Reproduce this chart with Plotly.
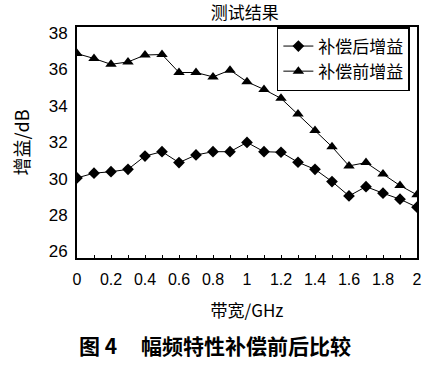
import plotly.graph_objects as go

freq = [0.0, 0.1, 0.2, 0.3, 0.4, 0.5, 0.6, 0.7, 0.8, 0.9, 1.0,
        1.1, 1.2, 1.3, 1.4, 1.5, 1.6, 1.7, 1.8, 1.9, 2.0]
gain_after = [30.04, 30.30, 30.38, 30.51, 31.24, 31.48, 30.88, 31.30, 31.48, 31.48, 31.99,
              31.48, 31.45, 30.90, 30.51, 29.84, 29.05, 29.56, 29.20, 28.87, 28.43]
gain_before = [36.87, 36.60, 36.28, 36.41, 36.79, 36.82, 35.83, 35.83, 35.59, 35.96, 35.32,
               34.90, 34.41, 33.55, 32.64, 31.75, 30.70, 30.88, 30.26, 29.62, 29.11]
x_ticks = [0, 0.2, 0.4, 0.6, 0.8, 1, 1.2, 1.4, 1.6, 1.8, 2]
x_tick_labels = ["0", "0.2", "0.4", "0.6", "0.8", "1", "1.2", "1.4", "1.6", "1.8", "2"]
y_ticks = [26, 28, 30, 32, 34, 36, 38]
name_after = "补偿后增益"
name_before = "补偿前增益"

FONT = "Liberation Sans, Noto Sans CJK SC, Arial, sans-serif"
CJK = "Noto Sans CJK SC"

fig = go.Figure()
fig.add_trace(go.Scatter(
    x=freq, y=gain_after, name=name_after, mode="lines+markers",
    line=dict(color="black", width=1),
    marker=dict(symbol="diamond", size=9, color="black"),
))
fig.add_trace(go.Scatter(
    x=freq, y=gain_before, name=name_before, mode="lines+markers",
    line=dict(color="black", width=1),
    marker=dict(symbol="triangle-up", size=10, color="black"),
))

fig.update_layout(
    width=441, height=375,
    margin=dict(l=77, r=24, t=27, b=117),
    paper_bgcolor="white", plot_bgcolor="white",
    font=dict(family=FONT, size=16, color="black"),
    title=dict(text="测试结果", x=0.555, xanchor="center", y=0.966, yanchor="middle",
               font=dict(family=CJK, size=17, color="black")),
    showlegend=True,
    legend=dict(x=0.979, xanchor="right", y=1.0, yanchor="top",
                bordercolor="black", borderwidth=1.5, bgcolor="white",
                font=dict(family=CJK, size=17, color="black"),
                itemwidth=30, tracegroupgap=0),
    xaxis=dict(range=[0, 2], tickvals=x_ticks, ticktext=x_tick_labels,
               ticks="inside", ticklen=3, tickcolor="black", tickwidth=1,
               minor=dict(dtick=0.1, tick0=0, ticks="inside", ticklen=3, tickcolor="black"),
               showline=True, linecolor="black", linewidth=2, mirror=True,
               showgrid=False, zeroline=False,
               tickfont=dict(size=16), ticklabelstandoff=6,
               title=dict(text="带宽/GHz", standoff=18,
                          font=dict(family=CJK, size=17))),
    yaxis=dict(range=[25.64, 38.33], tickvals=y_ticks, ticks="",
               showline=True, linecolor="black", linewidth=2, mirror=True,
               showgrid=False, zeroline=False,
               tickfont=dict(size=17), ticklabelstandoff=4,
               title=dict(text="增益/dB", standoff=14,
                          font=dict(family=CJK, size=18))),
)

fig.add_annotation(
    text="<b>图 4\u00a0\u00a0\u00a0\u00a0\u00a0幅频特性补偿前后比较</b>",
    xref="paper", yref="paper", x=0.407, y=-0.375, xanchor="center", yanchor="middle",
    showarrow=False, font=dict(family=CJK, size=21, color="black"),
)

fig.write_html("out.html", config={"displayModeBar": False},
               post_script="document.body.style.margin='0';")
